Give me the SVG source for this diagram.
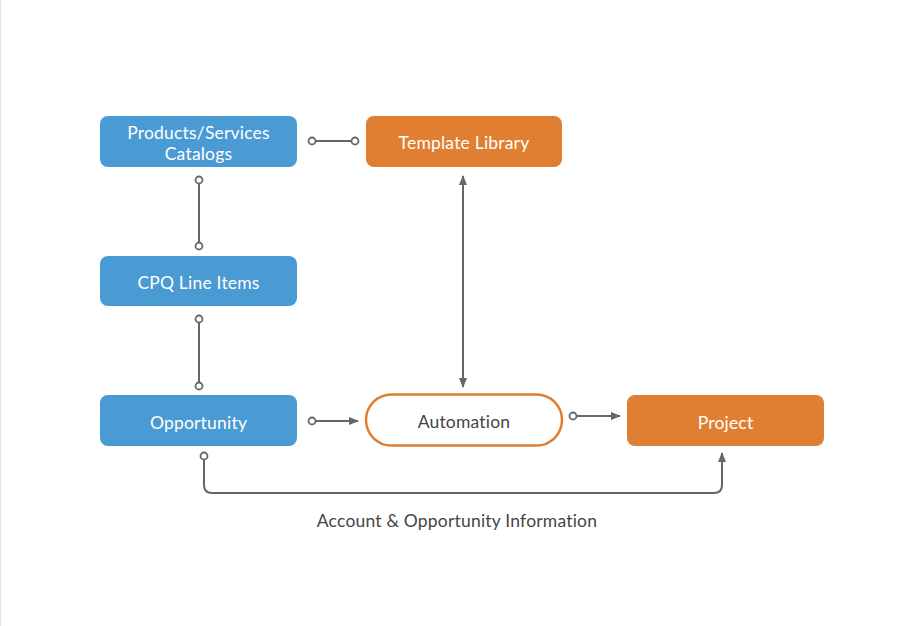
<svg xmlns="http://www.w3.org/2000/svg" width="916" height="626" viewBox="0 0 916 626">
<style>
.blue{fill:#4A9AD4}
.orange{fill:#E07F31}
.lbl{font-family:Lato,"Open Sans","Liberation Sans",sans-serif;font-size:17.5px;fill:#fff;text-anchor:middle;letter-spacing:0.2px}
.dark{fill:#454545}
.c{fill:none;stroke:#666;stroke-width:2}
.dot{fill:#fff;stroke:#666;stroke-width:1.8}
</style>
<defs>
<marker id="ah" markerWidth="10" markerHeight="8" refX="9" refY="4" orient="auto-start-reverse" markerUnits="userSpaceOnUse">
<path d="M0,0 L10,4 L0,8 Z" fill="#666"/>
</marker>
</defs>
<rect width="916" height="626" fill="#fff"/>
<line x1="0.5" y1="0" x2="0.5" y2="626" stroke="#e6e6e6" stroke-width="1"/>
<g id="connectors">
<path class="c" d="M312,141 H355"/>
<path class="c" d="M199,180 V246"/>
<path class="c" d="M199,319 V386"/>
<path class="c" d="M463,176 V387" marker-start="url(#ah)" marker-end="url(#ah)"/>
<path class="c" d="M312,421 H358" marker-end="url(#ah)"/>
<path class="c" d="M573,416 H620" marker-end="url(#ah)"/>
<path class="c" d="M204,456 V485 Q204,493 212,493 H714 Q722,493 722,485 V453" marker-end="url(#ah)"/>
<circle class="dot" cx="312" cy="141" r="3.5"/>
<circle class="dot" cx="355" cy="141" r="3.5"/>
<circle class="dot" cx="199" cy="180" r="3.5"/>
<circle class="dot" cx="199" cy="246" r="3.5"/>
<circle class="dot" cx="199" cy="319" r="3.5"/>
<circle class="dot" cx="199" cy="386" r="3.5"/>
<circle class="dot" cx="312" cy="421" r="3.5"/>
<circle class="dot" cx="573" cy="416" r="3.5"/>
<circle class="dot" cx="204" cy="456" r="3.5"/>
</g>
<g id="catalogs">
<rect class="blue" x="100" y="116" width="197" height="51" rx="8"/>
<text class="lbl" x="198.5" y="138.5">Products/Services</text>
<text class="lbl" x="198.5" y="159.5">Catalogs</text>
</g>
<g id="template">
<rect class="orange" x="366" y="116" width="196" height="51" rx="8"/>
<text class="lbl" x="464" y="148.5">Template Library</text>
</g>
<g id="cpq">
<rect class="blue" x="100" y="256" width="197" height="50" rx="8"/>
<text class="lbl" x="198.5" y="288.5">CPQ Line Items</text>
</g>
<g id="opportunity">
<rect class="blue" x="100" y="395" width="197" height="51" rx="8"/>
<text class="lbl" x="198.5" y="428.5">Opportunity</text>
</g>
<g id="automation">
<rect x="366" y="394.5" width="196" height="51" rx="25.5" fill="#fff" stroke="#E07F31" stroke-width="2.5"/>
<text class="lbl dark" x="464" y="427.5">Automation</text>
</g>
<g id="project">
<rect class="orange" x="627" y="395" width="197" height="51" rx="8"/>
<text class="lbl" x="725.5" y="428.5">Project</text>
</g>
<text class="lbl dark" x="457" y="526.5">Account &amp; Opportunity Information</text>
</svg>
